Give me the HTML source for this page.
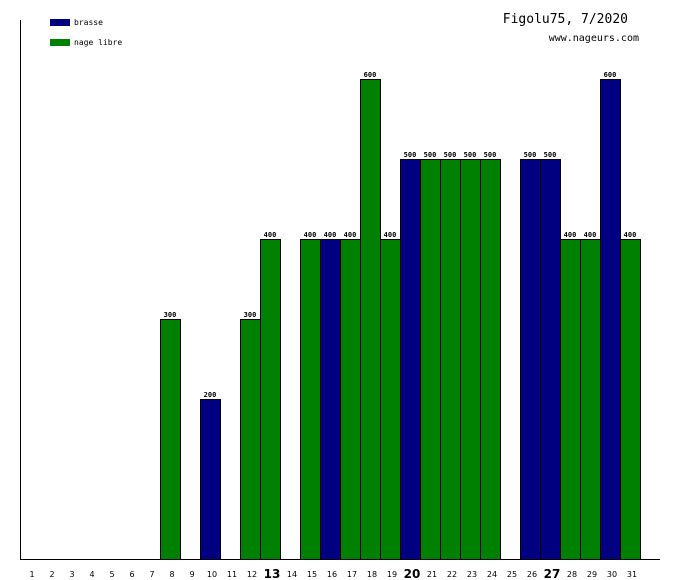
<!DOCTYPE html><html><head><style>body{margin:0;background:#fff}svg{display:block}</style></head><body>
<svg width="680" height="580" xmlns="http://www.w3.org/2000/svg" font-family="'DejaVu Sans Mono','Liberation Mono',monospace">
<rect width="680" height="580" fill="#fff"/>
<rect x="50" y="19" width="20" height="7" fill="#000080"/>
<text x="74" y="25" font-size="8">brasse</text>
<rect x="50" y="39" width="20" height="7" fill="#008000"/>
<text x="74" y="45" font-size="8">nage libre</text>
<text x="628" y="23" font-size="13" text-anchor="end">Figolu75, 7/2020</text>
<text x="639" y="41" font-size="10" text-anchor="end">www.nageurs.com</text>
<g id="bars" stroke="#000" stroke-width="1"></g>
<g id="vals" font-size="7" text-anchor="middle" font-weight="bold"></g>
<g id="labs" font-size="8" text-anchor="middle" font-family="'DejaVu Sans',sans-serif"></g>
<line x1="20.5" y1="20" x2="20.5" y2="560" stroke="#000"/>
<line x1="20" y1="559.5" x2="660" y2="559.5" stroke="#000"/>
<script>
var d={8:['g',300],10:['b',200],12:['g',300],13:['g',400],15:['g',400],16:['b',400],17:['g',400],18:['g',600],19:['g',400],20:['b',500],21:['g',500],22:['g',500],23:['g',500],24:['g',500],26:['b',500],27:['b',500],28:['g',400],29:['g',400],30:['b',600],31:['g',400]};
var ns='http://www.w3.org/2000/svg',B=document.getElementById('bars'),V=document.getElementById('vals'),L=document.getElementById('labs');
for(var n=1;n<=31;n++){var x=20+(n-1)*20;
if(d[n]){var h=d[n][1]*0.8,y=559-h;var r=document.createElementNS(ns,'rect');r.setAttribute('x',x+0.5);r.setAttribute('y',y+0.5);r.setAttribute('width',20);r.setAttribute('height',h);r.setAttribute('fill',d[n][0]=='g'?'#008000':'#000080');B.appendChild(r);
var t=document.createElementNS(ns,'text');t.setAttribute('x',x+10);t.setAttribute('y',y-2);t.textContent=d[n][1];V.appendChild(t);}
var l=document.createElementNS(ns,'text');l.setAttribute('x',x+12);var big=(n==13||n==20||n==27);l.setAttribute('y',big?578:577);if(big){l.setAttribute('font-size','12');l.setAttribute('font-weight','bold');}l.textContent=n;L.appendChild(l);}
</script>
</svg></body></html>
